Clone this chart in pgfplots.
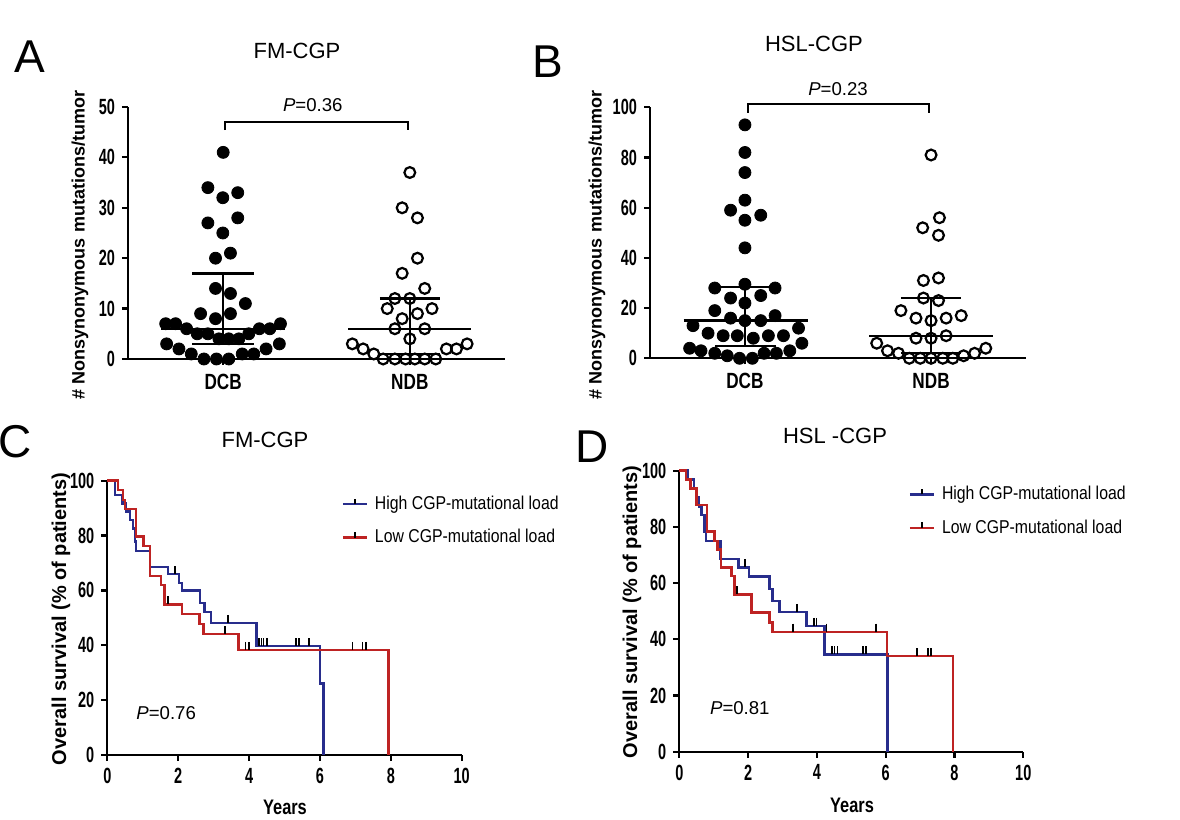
\documentclass[border=0pt]{standalone}
\usepackage{pgfplots}
\pgfplotsset{compat=1.18}
\usepackage{fontspec}
\setmainfont{Liberation Sans}
\newfontfamily\condfont[FakeStretch=0.78]{Liberation Sans}
\newfontfamily\tickfont[FakeStretch=0.66]{Liberation Sans}
\newfontfamily\legfont[FakeStretch=0.85]{Liberation Sans}
\definecolor{kmblue}{RGB}{40,45,140}
\definecolor{kmred}{RGB}{190,35,35}
\pgfplotsset{
  base/.style={scale only axis, axis x line*=bottom, axis y line*=left,
    axis line style={line width=1.1pt}, tick style={line width=1.1pt,black},
    tick align=outside, major tick length=3pt, clip=false,
    ticklabel style={font=\tickfont\bfseries\fontsize{11}{12}\selectfont},
    /pgf/number format/assume math mode=true},
  dotA/.style={only marks, mark=*, mark size=3pt, black},
  dotB/.style={only marks, mark=o, mark size=2.7pt, black, mark options={line width=1.1pt, fill=white}},
  bar/.style={black, line width=1.2pt},
  km/.style={const plot, line width=1.2pt},
  cens/.style={only marks, mark=|, mark size=2pt, black, mark options={yshift=2pt, line width=0.9pt}, forget plot},
  kmlegend/.style={legend image code/.code={\draw[##1, line width=1.2pt] (0pt,0pt) -- (12pt,0pt); \draw[black, line width=0.8pt] (6pt,0pt) -- (6pt,2.8pt);},
    legend style={draw=none, fill=none, anchor=north west, font=\legfont\fontsize{9.3}{11}\selectfont, row sep=4.5pt, nodes={inner xsep=3.5pt}}, legend cell align=left},
}
\begin{document}
\begin{tikzpicture}
\path[use as bounding box] (0,0) rectangle (590pt,410pt);
% ---------------- Panel A
\begin{axis}[base, at={(64pt,230.5pt)}, anchor=south west, width=188.5pt, height=126pt,
  xmin=0.49, xmax=2.51, ymin=0, ymax=50, xtick={1,2}, xticklabels={DCB,NDB},
  xticklabel style={font=\condfont\bfseries\fontsize{11}{13}\selectfont, yshift=-1pt},
  ytick={0,10,...,50}]
\addplot[dotA] table {
x y
1.000 41
0.918 34
0.998 32
1.078 33
0.918 27
1.078 28
0.998 25
0.959 20
1.039 21
0.959 14
1.039 13
1.119 11
0.879 9
1.039 9
0.959 8
0.692 7
0.745 7
0.804 6
0.861 5
0.918 5
0.977 4
1.030 4
1.084 4
1.137 5
1.194 6
1.250 6
1.307 7
0.697 3
0.763 2
0.829 1
0.897 0
0.964 0
1.030 0
1.102 1
1.164 1
1.230 2
1.301 3
};
\addplot[dotB] table {
x y
2.000 37
1.959 30
2.041 28
2.041 20
1.959 17
2.080 14
1.920 12
2.000 12
1.879 10
2.119 10
1.959 8
2.041 9
1.920 6
2.080 6
2.000 4
1.692 3
1.750 2
1.807 1
1.857 0
1.920 0
1.977 0
2.027 0
2.080 0
2.139 0
2.196 2
2.250 2
2.307 3
};
\addplot[bar] coordinates {(0.667,6) (1.333,6)};
\addplot[bar] coordinates {(1,3) (1,17)};
\addplot[bar] coordinates {(0.834,17) (1.164,17)};
\addplot[bar] coordinates {(0.834,3) (1.164,3)};
\addplot[bar] coordinates {(1.670,6) (2.330,6)};
\addplot[bar] coordinates {(2,1) (2,12)};
\addplot[bar] coordinates {(1.840,12) (2.164,12)};
\addplot[bar] coordinates {(1.840,1) (2.164,1)};
\addplot[black, line width=1.1pt] coordinates {(1.01,45.4) (1.01,47) (1.99,47) (1.99,45.4)};
\node[font=\fontsize{9.3}{11}\selectfont] at (axis cs:1.48,50.3) {\textit{P}=0.36};
\end{axis}
% ---------------- Panel B
\begin{axis}[base, at={(325pt,230.85pt)}, anchor=south west, width=188pt, height=125.5pt,
  xmin=0.49, xmax=2.51, ymin=0, ymax=100, xtick={1,2}, xticklabels={DCB,NDB},
  xticklabel style={font=\condfont\bfseries\fontsize{11}{13}\selectfont, yshift=-1pt},
  ytick={0,20,...,100}]
\addplot[dotA] table {
x y
1.000 93
1.000 82
1.000 74
1.000 63
0.923 59
1.085 57
1.000 55
1.000 44
1.000 29.5
0.838 28
1.162 28
0.923 24
1.085 25
1.000 22
0.838 19
0.923 16
1.085 15
1.162 17
1.000 15
0.721 13
0.802 10
0.883 9
0.959 9
1.045 8
1.126 9
1.207 9
1.288 12
1.306 6
0.703 4
0.764 3
0.838 2
0.905 1
0.971 0
1.040 0
1.103 2
1.169 2
1.241 3
};
\addplot[dotB] table {
x y
2.000 81
2.045 56
1.955 52
2.040 49
1.959 31
2.040 32
1.959 24
2.040 23
1.838 19
1.919 16
2.000 15
2.081 16
2.162 17
1.919 8
2.000 8
2.081 9
1.708 6
1.766 3
1.825 2
1.883 0
1.942 0
2.000 0
2.063 0
2.117 0
2.175 1
2.234 2
2.294 4
};
\addplot[bar] coordinates {(0.670,15) (1.337,15)};
\addplot[bar] coordinates {(1,5) (1,28.5)};
\addplot[bar] coordinates {(0.832,28.5) (1.184,28.5)};
\addplot[bar] coordinates {(0.841,5) (1.166,5)};
\addplot[bar] coordinates {(1.667,9) (2.333,9)};
\addplot[bar] coordinates {(2,2) (2,24)};
\addplot[bar] coordinates {(1.838,24) (2.162,24)};
\addplot[bar] coordinates {(1.838,2) (2.162,2)};
\addplot[black, line width=1.1pt] coordinates {(1.018,97.9) (1.018,101.3) (1.99,101.3) (1.99,97.9)};
\node[font=\fontsize{9.3}{11}\selectfont] at (axis cs:1.5,107.3) {\textit{P}=0.23};
\end{axis}
% ---------------- Panel C
\begin{axis}[base, kmlegend, at={(53.65pt,32.5pt)}, anchor=south west, width=177.2pt, height=137.15pt,
  xmin=0, xmax=10, ymin=0, ymax=100, xtick={0,2,...,10}, ytick={0,20,...,100},
  legend style={at={(0.643,0.975)}}]
\addplot[km, kmblue] coordinates {(0,100) (0.22,94.8) (0.43,91.7) (0.53,88.7) (0.64,85.7) (0.73,82.6) (0.78,77.8) (0.81,74.4) (1.20,68.6) (1.72,65.9) (2.02,62.8) (2.10,59.9) (2.62,55.5) (2.74,52.2) (2.93,48.2) (4.21,39.7) (6.00,26.1) (6.10,0)};
\addlegendentry{High CGP-mutational load}
\addplot[km, kmred] coordinates {(0,100) (0.31,96.6) (0.45,93.0) (0.50,89.6) (0.81,79.6) (1.02,76.2) (1.20,65.3) (1.51,62.0) (1.61,54.9) (2.10,51.4) (2.60,47.8) (2.71,44.1) (3.70,38.3) (7.93,0)};
\addlegendentry{Low CGP-mutational load}
\addplot[cens] coordinates {(1.91,65.9) (3.41,48.2) (4.29,39.7) (4.35,39.7) (4.41,39.7) (4.50,39.7) (5.32,39.7) (5.42,39.7) (5.70,39.7)};
\addplot[cens] coordinates {(1.72,54.9) (3.32,44.1) (3.90,38.3) (4.00,38.3) (6.92,38.3) (7.20,38.3) (7.29,38.3)};
\node[font=\fontsize{9.3}{11}\selectfont] at (axis cs:1.66,15.3) {\textit{P}=0.76};
\end{axis}
% ---------------- Panel D
\begin{axis}[base, kmlegend, at={(339.65pt,34.15pt)}, anchor=south west, width=172pt, height=140.5pt,
  xmin=0, xmax=10, ymin=0, ymax=100, xtick={0,2,...,10}, ytick={0,20,...,100},
  legend style={at={(0.648,0.975)}}]
\addplot[km, kmblue] coordinates {(0,100) (0.26,96.9) (0.43,93.7) (0.50,90.5) (0.58,87.2) (0.65,84.2) (0.73,78.3) (0.78,75.0) (1.20,68.6) (1.72,65.6) (2.03,62.3) (2.62,57.8) (2.71,53.7) (2.91,49.8) (3.70,44.8) (4.22,34.6) (6.05,0)};
\addlegendentry{High CGP-mutational load}
\addplot[km, kmred] coordinates {(0,100) (0.19,96.9) (0.33,93.7) (0.50,87.8) (0.81,78.3) (1.02,75.0) (1.11,72.0) (1.21,65.6) (1.52,62.5) (1.60,56.0) (2.10,49.5) (2.62,46.0) (2.71,42.7) (6.03,34.0) (7.95,0)};
\addlegendentry{Low CGP-mutational load}
\addplot[cens] coordinates {(1.90,65.6) (3.41,49.8) (3.92,44.8) (3.99,44.8) (4.43,34.6) (4.51,34.6) (4.60,34.6) (5.33,34.6) (5.43,34.6)};
\addplot[cens] coordinates {(1.67,56.0) (3.31,42.7) (4.28,42.7) (5.72,42.7) (6.92,34.0) (7.24,34.0) (7.32,34.0)};
\node[font=\fontsize{9.3}{11}\selectfont] at (axis cs:1.76,15.6) {\textit{P}=0.81};
\end{axis}
% ---------------- texts
\node[font=\fontsize{23}{26}\selectfont] at (15pt,381.5pt) {A};
\node[font=\fontsize{23}{26}\selectfont] at (274pt,379pt) {B};
\node[font=\fontsize{23}{26}\selectfont] at (7.5pt,189pt) {C};
\node[font=\fontsize{23}{26}\selectfont] at (296pt,186.5pt) {D};
\node[font=\fontsize{11}{13}\selectfont] at (148.5pt,384.5pt) {FM-CGP};
\node[font=\fontsize{11}{13}\selectfont] at (407pt,388pt) {HSL-CGP};
\node[font=\fontsize{11}{13}\selectfont] at (132.5pt,190pt) {FM-CGP};
\node[font=\fontsize{11}{13}\selectfont] at (417.5pt,192pt) {HSL -CGP};
\node[font=\bfseries\fontsize{9}{11}\selectfont, rotate=90] at (40pt,287.5pt) {\# Nonsynonymous mutations/tumor};
\node[font=\bfseries\fontsize{9}{11}\selectfont, rotate=90] at (298.5pt,287.5pt) {\# Nonsynonymous mutations/tumor};
\node[font=\bfseries\fontsize{10}{12}\selectfont, rotate=90] at (30.5pt,100.5pt) {Overall survival (\% of patients)};
\node[font=\bfseries\fontsize{10}{12}\selectfont, rotate=90] at (316pt,104pt) {Overall survival (\% of patients)};
\node[font=\condfont\bfseries\fontsize{10.5}{12}\selectfont] at (142.5pt,6.5pt) {Years};
\node[font=\condfont\bfseries\fontsize{10.5}{12}\selectfont] at (426pt,7.5pt) {Years};
\end{tikzpicture}
\end{document}
